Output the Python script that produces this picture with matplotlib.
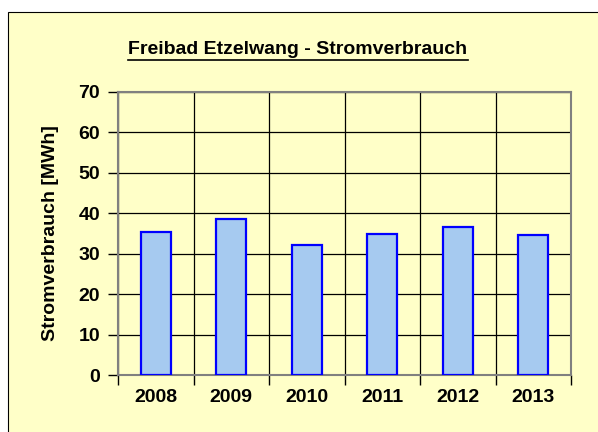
import matplotlib
matplotlib.use("Agg")
import matplotlib.pyplot as plt
from matplotlib.patches import Rectangle
from matplotlib.lines import Line2D

years = ["2008", "2009", "2010", "2011", "2012", "2013"]
consumption = [35.4, 38.5, 32.2, 34.9, 36.6, 34.6]
yticks = [0, 10, 20, 30, 40, 50, 60, 70]
title = "Freibad Etzelwang - Stromverbrauch"
ylabel = "Stromverbrauch [MWh]"

plt.rcParams['font.family'] = ['Liberation Sans', 'DejaVu Sans']
bg = "#FFFFC8"

fig = plt.figure(figsize=(5.98, 4.32), dpi=100)
fig.patch.set_facecolor("white")
# outer chart frame
frame = Rectangle((8/598, -0.1), 1.0, 1.1 - 12/432, transform=fig.transFigure,
                  facecolor=bg, edgecolor="black", linewidth=0.8, zorder=-10)
fig.patches.append(frame)

ax = fig.add_axes([118/598, 1 - 375/432, (571 - 118)/598, (375 - 92)/432])
ax.set_zorder(5)
ax.set_facecolor(bg)
x = list(range(len(years)))
ax.bar(x, consumption, width=0.4, color="#A6CAF0", edgecolor="#0000FF", linewidth=1.6, zorder=3)
ax.set_xlim(-0.5, len(years) - 0.5)
ax.set_ylim(0, 70)
ax.set_yticks(yticks)
ax.set_yticklabels([str(v) for v in yticks], fontsize=14, fontweight="bold")
ax.set_xticks(x)
ax.set_xticklabels(years, fontsize=14, fontweight="bold")
ax.set_xticks([i - 0.5 for i in range(len(years) + 1)], minor=True)
ax.tick_params(axis="x", which="major", length=0, pad=10)
ax.tick_params(axis="x", which="minor", length=7, width=1, color="black")
ax.tick_params(axis="y", length=7, width=1, color="black", pad=6)
ax.grid(True, axis="y", color="black", linewidth=0.9, zorder=1)
ax.grid(True, axis="x", which="minor", color="black", linewidth=0.9, zorder=1)
ax.set_axisbelow(True)
for s in ax.spines.values():
    s.set_color("#808080")
    s.set_linewidth(1.5)
ax.set_ylabel(ylabel, fontsize=14, fontweight="bold", labelpad=14)

t = fig.text(298/598, 1 - 50/432, title, fontsize=14, fontweight="bold", ha="center", va="center")
fig.canvas.draw()
bb = t.get_window_extent(renderer=fig.canvas.get_renderer())
yline = bb.y0 - 1
fig.lines.append(Line2D([bb.x0 / fig.bbox.width, bb.x1 / fig.bbox.width],
                        [yline / fig.bbox.height, yline / fig.bbox.height],
                        transform=fig.transFigure, color="black", linewidth=1.2))

fig.savefig("out.png", dpi=100, facecolor=fig.get_facecolor())
